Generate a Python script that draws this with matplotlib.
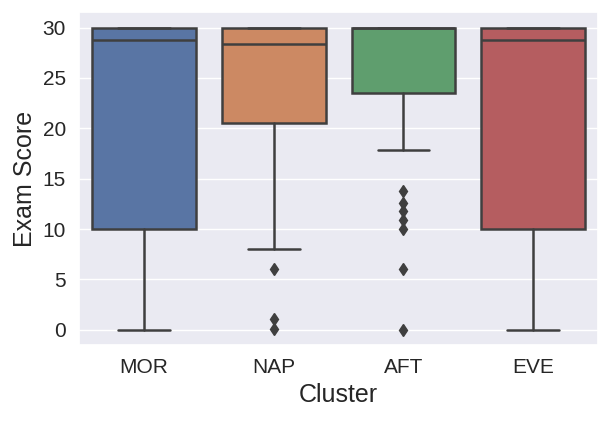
import matplotlib
matplotlib.use("Agg")
import matplotlib.pyplot as plt
import seaborn as sns

sns.set_theme(style="darkgrid")
plt.rcParams['font.family'] = ['Liberation Sans', 'DejaVu Sans']

clusters = ["MOR", "NAP", "AFT", "EVE"]
q1 = [10, 20.5, 23.5, 10]
med = [28.8, 28.4, 30, 28.8]
q3 = [30, 30, 30, 30]
whislo = [0, 8, 17.8, 0]
whishi = [30, 30, 30, 30]
fliers = [[], [6, 1.1, 0.1], [13.8, 12.6, 11.8, 10.9, 10.0, 6.0, 0.0], []]
colors = ["#5975a4", "#cc8963", "#5f9e6e", "#b55d60"]

stats = [dict(label=c, q1=a, med=m, q3=b, whislo=lo, whishi=hi, fliers=f)
         for c, a, m, b, lo, hi, f in zip(clusters, q1, med, q3, whislo, whishi, fliers)]

fig = plt.figure(figsize=(6.06, 4.21), dpi=100)
ax = fig.add_axes([0.1305, 0.1805, 0.8565, 0.79])
gray = "#3f3f3f"
lw = 1.8
bp = ax.bxp(stats, positions=range(len(clusters)), widths=0.8, patch_artist=True,
            boxprops=dict(edgecolor=gray, linewidth=lw),
            medianprops=dict(color=gray, linewidth=lw),
            whiskerprops=dict(color=gray, linewidth=lw),
            capprops=dict(color=gray, linewidth=lw),
            flierprops=dict(marker='d', markerfacecolor=gray, markeredgecolor=gray, markersize=6.5))
for patch, c in zip(bp['boxes'], colors):
    patch.set_facecolor(c)
for cap in bp['caps']:
    x = cap.get_xdata()
    cx = (x[0] + x[1]) / 2
    cap.set_xdata([cx - 0.2, cx + 0.2])

ax.set_xlim(-0.5, 3.5)
ax.set_ylim(-1.5, 31.5)
ax.set_yticks([0, 5, 10, 15, 20, 25, 30])
ax.set_xticks(range(len(clusters)))
ax.set_xticklabels(clusters)
ax.tick_params(labelsize=15)
ax.set_xlabel("Cluster", fontsize=18)
ax.set_ylabel("Exam Score", fontsize=18)
ax.grid(axis='x', visible=False)
fig.savefig("out.png", dpi=100)
